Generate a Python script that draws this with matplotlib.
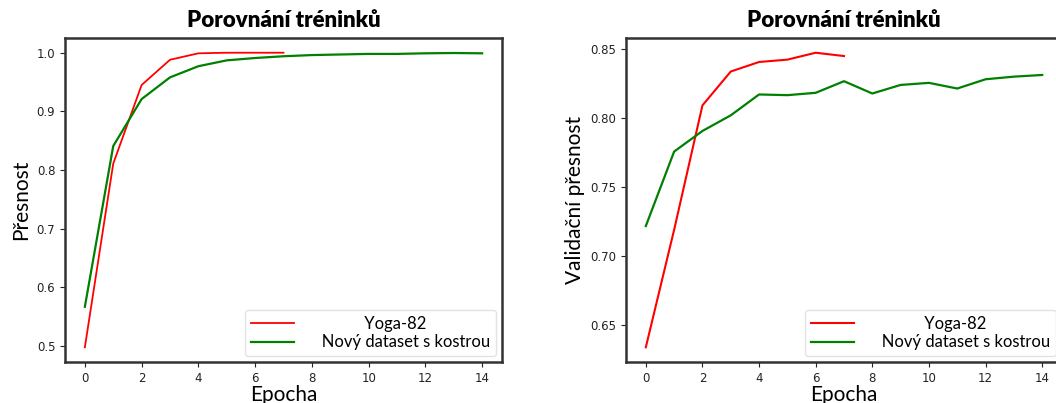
import matplotlib
matplotlib.use('Agg')
import matplotlib.pyplot as plt

# data
epochs_yoga = [0, 1, 2, 3, 4, 5, 6, 7]
epochs_new = list(range(15))

train_yoga = [0.498, 0.811, 0.945, 0.988, 0.999, 1.0, 1.0, 1.0]
train_new = [0.567, 0.841, 0.921, 0.958, 0.977, 0.987, 0.991, 0.994,
             0.996, 0.997, 0.998, 0.998, 0.999, 0.9995, 0.999]

val_yoga = [0.634, 0.719, 0.809, 0.8335, 0.8404, 0.8421, 0.8471, 0.8447]
val_new = [0.7217, 0.7756, 0.7905, 0.8018, 0.8169, 0.8164, 0.8181, 0.8265,
           0.8176, 0.8238, 0.8253, 0.8212, 0.8279, 0.8298, 0.831]

labels = ['Yoga-82', 'Nový dataset s kostrou']
title = 'Porovnání tréninků'
label_font = 'Lato'

fig = plt.figure(figsize=(10.56, 4.03), dpi=100)
W, H = 1056, 403

ax1 = fig.add_axes([65 / W, 41 / H, 437 / W, 324 / H])
ax2 = fig.add_axes([626 / W, 41 / H, 436 / W, 324 / H])


def style_axes(ax, ylabel, yvals):
    ax.set_title(title, fontsize=16, fontweight='heavy', family=label_font, pad=8)
    ax.set_xlabel('Epocha', fontsize=15, family=label_font, labelpad=0)
    ax.set_ylabel(ylabel, fontsize=15, family=label_font)
    ax.set_xticks([0, 2, 4, 6, 8, 10, 12, 14])
    ax.set_yticks(yvals)
    ax.tick_params(labelsize=8.5, colors='#222222')
    for s in ax.spines.values():
        s.set_linewidth(1.8)
        s.set_color('#333333')
    leg = ax.legend(loc='lower right', prop={'family': label_font, 'size': 12},
                    handlelength=2.6, handletextpad=0.9, borderaxespad=0.35,
                    labelspacing=0.15, borderpad=0.35)
    leg.get_frame().set_edgecolor('#dddddd')


ax1.plot(epochs_yoga, train_yoga, color='red', lw=1.3, label='             ' + labels[0])
ax1.plot(epochs_new, train_new, color='green', lw=1.6, label='   ' + labels[1])
style_axes(ax1, 'Přesnost', [0.5, 0.6, 0.7, 0.8, 0.9, 1.0])

ax2.plot(epochs_yoga, val_yoga, color='red', lw=1.5, label='             ' + labels[0])
ax2.plot(epochs_new, val_new, color='green', lw=1.6, label='   ' + labels[1])
style_axes(ax2, 'Validační přesnost', [0.65, 0.70, 0.75, 0.80, 0.85])
ax2.set_yticklabels(['0.65', '0.70', '0.75', '0.80', '0.85'])

fig.savefig('out.png', dpi=100)
